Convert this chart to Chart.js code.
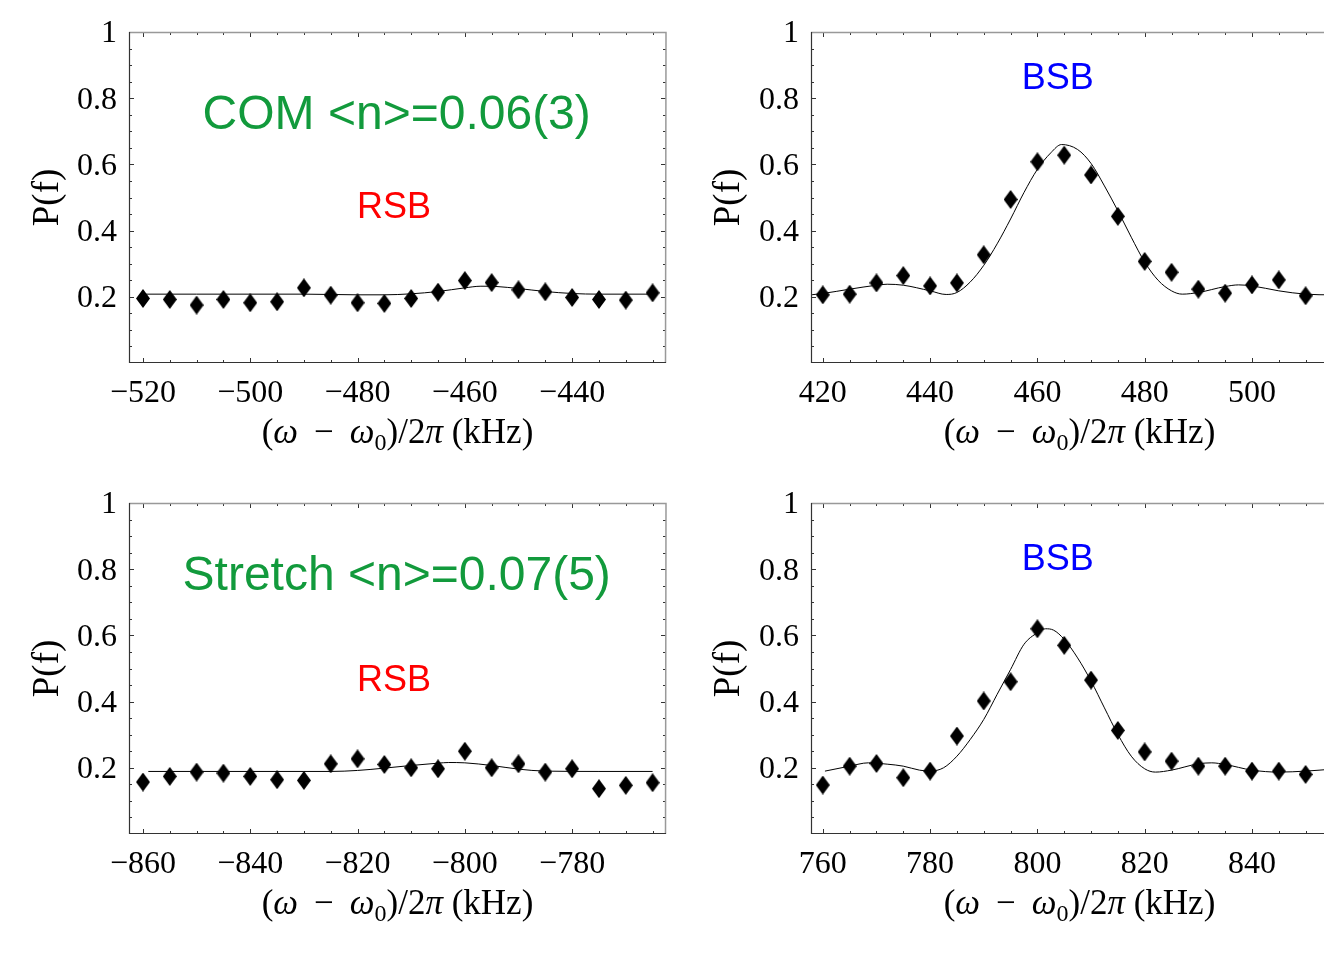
<!DOCTYPE html>
<html>
<head>
<meta charset="utf-8">
<title>Sideband scans</title>
<script src="https://cdn.jsdelivr.net/npm/chart.js@4/dist/chart.umd.min.js"></script>
<style>
html, body { margin: 0; padding: 0; background: #fff; overflow: hidden; width: 1324px; height: 961px; }
canvas { position: absolute; }
</style>
</head>
<body>
<canvas id="comRsb" style="left:0px;top:0px;width:680px;height:470px" width="680" height="470"></canvas>
<canvas id="comBsb" style="left:690px;top:0px;width:672px;height:470px" width="672" height="470"></canvas>
<canvas id="strRsb" style="left:0px;top:471px;width:680px;height:470px" width="680" height="470"></canvas>
<canvas id="strBsb" style="left:690px;top:471px;width:672px;height:470px" width="672" height="470"></canvas>
<script>
//tick labels
var yTicks = [0.2, 0.4, 0.6, 0.8, 1];
var comRsbTicks = [-520, -500, -480, -460, -440];
var comBsbTicks = [420, 440, 460, 480, 500];
var strRsbTicks = [-860, -840, -820, -800, -780];
var strBsbTicks = [760, 780, 800, 820, 840];

//COM mode, red sideband
var comRsbFreq = [-520, -515, -510, -505, -500, -495, -490, -485, -480, -475, -470, -465, -460, -455, -450, -445, -440, -435, -430, -425];
var comRsbP = [0.195, 0.192, 0.175, 0.192, 0.182, 0.185, 0.227, 0.205, 0.182, 0.180, 0.195, 0.214, 0.249, 0.243, 0.221, 0.215, 0.198, 0.192, 0.190, 0.212];
var comRsbFitFreq = [-520, -510, -500, -490, -485, -480, -475, -470, -465, -460, -457, -454, -450, -445, -440, -435, -430, -425];
var comRsbFitP = [0.208, 0.208, 0.208, 0.208, 0.207, 0.206, 0.206, 0.209, 0.216, 0.227, 0.232, 0.231, 0.225, 0.216, 0.210, 0.208, 0.208, 0.208];

//COM mode, blue sideband
var comBsbFreq = [420, 425, 430, 435, 440, 445, 450, 455, 460, 465, 470, 475, 480, 485, 490, 495, 500, 505, 510];
var comBsbP = [0.206, 0.208, 0.242, 0.264, 0.233, 0.242, 0.327, 0.494, 0.608, 0.628, 0.568, 0.443, 0.307, 0.274, 0.223, 0.211, 0.236, 0.251, 0.203];
var comBsbFitFreq = [416, 420, 425, 430, 432, 435, 440, 443, 445, 447.5, 450, 452.5, 455, 457.5, 460, 462.5, 464.5, 467.5, 470, 472.5, 475, 477.5, 480, 482.5, 485, 487, 490, 495, 497.5, 500, 505, 510, 515, 519];
var comBsbFitP = [0.203, 0.210, 0.223, 0.235, 0.238, 0.235, 0.218, 0.207, 0.213, 0.245, 0.295, 0.360, 0.435, 0.515, 0.585, 0.635, 0.660, 0.645, 0.603, 0.535, 0.460, 0.380, 0.305, 0.250, 0.218, 0.208, 0.213, 0.231, 0.236, 0.233, 0.218, 0.208, 0.206, 0.210];

//stretch mode, red sideband
var strRsbFreq = [-860, -855, -850, -845, -840, -835, -830, -825, -820, -815, -810, -805, -800, -795, -790, -785, -780, -775, -770, -765];
var strRsbP = [0.157, 0.174, 0.187, 0.184, 0.174, 0.164, 0.162, 0.212, 0.227, 0.210, 0.200, 0.197, 0.250, 0.200, 0.212, 0.187, 0.197, 0.137, 0.147, 0.155];
var strRsbFitFreq = [-859, -850, -840, -830, -825, -820, -815, -810, -805, -803, -800, -795, -790, -785, -775, -765];
var strRsbFitP = [0.189, 0.189, 0.189, 0.189, 0.189, 0.192, 0.199, 0.207, 0.214, 0.216, 0.215, 0.207, 0.196, 0.190, 0.189, 0.189];

//stretch mode, blue sideband
var strBsbFreq = [760, 765, 770, 775, 780, 785, 790, 795, 800, 805, 810, 815, 820, 825, 830, 835, 840, 845, 850];
var strBsbP = [0.148, 0.205, 0.213, 0.170, 0.190, 0.296, 0.402, 0.460, 0.620, 0.570, 0.465, 0.313, 0.248, 0.220, 0.205, 0.205, 0.190, 0.190, 0.180];
var strBsbFitFreq = [760.4, 765, 768.5, 772, 775, 778, 780, 782.5, 785, 787.5, 790, 792.5, 795, 797.5, 800, 801.5, 803, 805, 807.5, 810, 812.5, 815, 817.5, 820, 822, 825, 830, 832.5, 835, 840, 845, 850, 855];
var strBsbFitP = [0.190, 0.205, 0.215, 0.211, 0.205, 0.193, 0.190, 0.200, 0.235, 0.286, 0.346, 0.422, 0.497, 0.573, 0.608, 0.620, 0.616, 0.588, 0.532, 0.462, 0.381, 0.301, 0.235, 0.197, 0.187, 0.193, 0.212, 0.215, 0.210, 0.193, 0.187, 0.190, 0.196];

var SERIF = "'Liberation Serif', 'Times New Roman', serif";
var SANS = "'Liberation Sans', Arial, sans-serif";
var GREEN = "rgb(18,154,60)";

function makeDiamond(w, h){
    var c = document.createElement("canvas");
    c.width = w;
    c.height = h;
    var g = c.getContext("2d");
    g.fillStyle = "#000";
    g.beginPath();
    g.moveTo(w/2, 0);
    g.lineTo(w, h/2);
    g.lineTo(w/2, h);
    g.lineTo(0, h/2);
    g.closePath();
    g.fill();
    return c;
}
var diamond = makeDiamond(14, 19);

function pairs(xs, ys){
    var out = [];
    for(var i = 0; i < xs.length; i++){
        out.push({x: xs[i], y: ys[i]});
    }
    return out;
}

function minusSign(v){
    return String(v).replace("-", "\u2212");
}

//frame with inward ticks on all four sides
var framePlugin = {
    id: "frame",
    afterDatasetsDraw(chart){
        var ctx = chart.ctx;
        var a = chart.chartArea;
        var xs = chart.scales.x;
        var ys = chart.scales.y;
        ctx.save();
        ctx.lineWidth = 1;
        //minor + major x ticks every 5 kHz
        var first = Math.ceil(xs.min / 5) * 5;
        ctx.strokeStyle = "#333";
        ctx.beginPath();
        for(var v = first; v <= xs.max; v += 5){
            var px = Math.round(xs.getPixelForValue(v)) + 0.5;
            var len = (v % 20 === 0) ? 5 : 3;
            ctx.moveTo(px, a.bottom);
            ctx.lineTo(px, a.bottom - len);
            ctx.moveTo(px, a.top);
            ctx.lineTo(px, a.top + len);
        }
        for(var k = 1; k < 20; k++){
            var yv = k * 0.05;
            var py = Math.round(ys.getPixelForValue(yv)) + 0.5;
            var ylen = (k % 4 === 0) ? 5 : 3;
            ctx.moveTo(a.left, py);
            ctx.lineTo(a.left + ylen, py);
            ctx.moveTo(a.right, py);
            ctx.lineTo(a.right - ylen, py);
        }
        ctx.stroke();
        //top and right edges are lighter
        ctx.strokeStyle = "#999";
        ctx.lineWidth = 1.5;
        ctx.beginPath();
        ctx.moveTo(a.left, a.top + 0.5);
        ctx.lineTo(a.right, a.top + 0.5);
        ctx.lineTo(a.right - 0.5, a.bottom);
        ctx.stroke();
        ctx.strokeStyle = "#333";
        ctx.lineWidth = 1.2;
        ctx.beginPath();
        ctx.moveTo(a.left + 0.5, a.top);
        ctx.lineTo(a.left + 0.5, a.bottom - 0.5);
        ctx.lineTo(a.right, a.bottom - 0.5);
        ctx.stroke();
        ctx.restore();
    }
};

//x axis title with italic greek and a subscript
var xTitleParts = [
    {t: "(", f: "reg"},
    {t: "\u03c9", f: "it"},
    {gap: 16},
    {t: "\u2212", f: "reg"},
    {gap: 16},
    {t: "\u03c9", f: "it"},
    {t: "0", f: "sub"},
    {t: ")/2", f: "reg"},
    {t: "\u03c0", f: "it"},
    {t: " (kHz)", f: "reg"}
];
var xTitlePlugin = {
    id: "xTitle",
    afterDraw(chart){
        var ctx = chart.ctx;
        var a = chart.chartArea;
        var fonts = {
            reg: "35px " + SERIF,
            it: "italic 35px " + SERIF,
            sub: "24px " + SERIF
        };
        ctx.save();
        ctx.fillStyle = "#000";
        ctx.textBaseline = "alphabetic";
        ctx.textAlign = "left";
        var total = 0;
        xTitleParts.forEach(function(p){
            if(p.gap){ total += p.gap; return; }
            ctx.font = fonts[p.f];
            total += ctx.measureText(p.t).width;
        });
        var x = (a.left + a.right) / 2 - total / 2;
        var base = a.bottom + 80;
        xTitleParts.forEach(function(p){
            if(p.gap){ x += p.gap; return; }
            ctx.font = fonts[p.f];
            ctx.fillText(p.t, x, p.f === "sub" ? base + 7 : base);
            x += ctx.measureText(p.t).width;
        });
        ctx.restore();
    }
};

//labels inside panels
var labelPlugin = {
    id: "panelText",
    afterDraw(chart, args, opts){
        var ctx = chart.ctx;
        var items = opts.items || [];
        ctx.save();
        ctx.textAlign = "center";
        ctx.textBaseline = "middle";
        items.forEach(function(it){
            ctx.font = it.size + "px " + SANS;
            ctx.fillStyle = it.color;
            ctx.fillText(it.text, chart.scales.x.getPixelForValue(it.x), chart.scales.y.getPixelForValue(it.y));
        });
        ctx.restore();
    }
};

function newPanel(id, freq, p, fitFreq, fitP, xTicks, xMin, xMax, yAxisWidth, yTitlePad, texts){
    return new Chart(document.getElementById(id), {
        type: "scatter",
        data: {
            datasets: [{
                data: pairs(fitFreq, fitP),
                showLine: true,
                borderColor: "#000",
                borderWidth: 1,
                pointRadius: 0,
                cubicInterpolationMode: "monotone",
                order: 2
            }, {
                data: pairs(freq, p),
                pointStyle: diamond,
                pointRadius: 9,
                backgroundColor: "#000",
                borderColor: "#000",
                order: 1
            }]
        },
        options: {
            responsive: false,
            devicePixelRatio: 1,
            animation: false,
            layout: {padding: {left: 0, top: 32, right: 14, bottom: 0}},
            plugins: {
                legend: {display: false},
                tooltip: {enabled: false},
                panelText: {items: texts}
            },
            scales: {
                x: {
                    type: "linear",
                    min: xMin,
                    max: xMax,
                    afterBuildTicks: function(scale){
                        scale.ticks = xTicks.map(function(v){ return {value: v}; });
                    },
                    afterFit: function(scale){ scale.height = 107; },
                    grid: {display: false, drawTicks: false},
                    border: {display: false},
                    ticks: {
                        padding: 11,
                        color: "#000",
                        maxRotation: 0,
                        autoSkip: false,
                        font: {family: SERIF, size: 32},
                        callback: function(v){ return minusSign(v); }
                    }
                },
                y: {
                    min: 0,
                    max: 1,
                    afterBuildTicks: function(scale){
                        scale.ticks = yTicks.map(function(v){ return {value: v}; });
                    },
                    afterFit: function(scale){ scale.width = yAxisWidth; },
                    grid: {display: false, drawTicks: false},
                    border: {display: false},
                    ticks: {
                        padding: 12,
                        labelOffset: 2,
                        color: "#000",
                        font: {family: SERIF, size: 32},
                        callback: function(v){ return String(v); }
                    },
                    title: {
                        display: true,
                        text: "P(f)",
                        color: "#000",
                        font: {family: SERIF, size: 37},
                        padding: {top: yTitlePad, bottom: 0}
                    }
                }
            }
        },
        plugins: [framePlugin, xTitlePlugin, labelPlugin]
    });
}

newPanel("comRsb", comRsbFreq, comRsbP, comRsbFitFreq, comRsbFitP, comRsbTicks, -522.6, -422.5, 129, 26, [
    {text: "COM <n>=0.06(3)", x: -472.7, y: 0.746, color: GREEN, size: 48},
    {text: "RSB", x: -473.2, y: 0.468, color: "#ff0000", size: 36}
]);
newPanel("comBsb", comBsbFreq, comBsbP, comBsbFitFreq, comBsbFitP, comBsbTicks, 417.8, 517.9, 121, 17, [
    {text: "BSB", x: 463.8, y: 0.858, color: "#0000ff", size: 36}
]);
newPanel("strRsb", strRsbFreq, strRsbP, strRsbFitFreq, strRsbFitP, strRsbTicks, -862.6, -762.5, 129, 26, [
    {text: "Stretch <n>=0.07(5)", x: -812.7, y: 0.776, color: GREEN, size: 48},
    {text: "RSB", x: -813.2, y: 0.462, color: "#ff0000", size: 36}
]);
newPanel("strBsb", strBsbFreq, strBsbP, strBsbFitFreq, strBsbFitP, strBsbTicks, 757.8, 857.9, 121, 17, [
    {text: "BSB", x: 803.8, y: 0.828, color: "#0000ff", size: 36}
]);
</script>
</body>
</html>
